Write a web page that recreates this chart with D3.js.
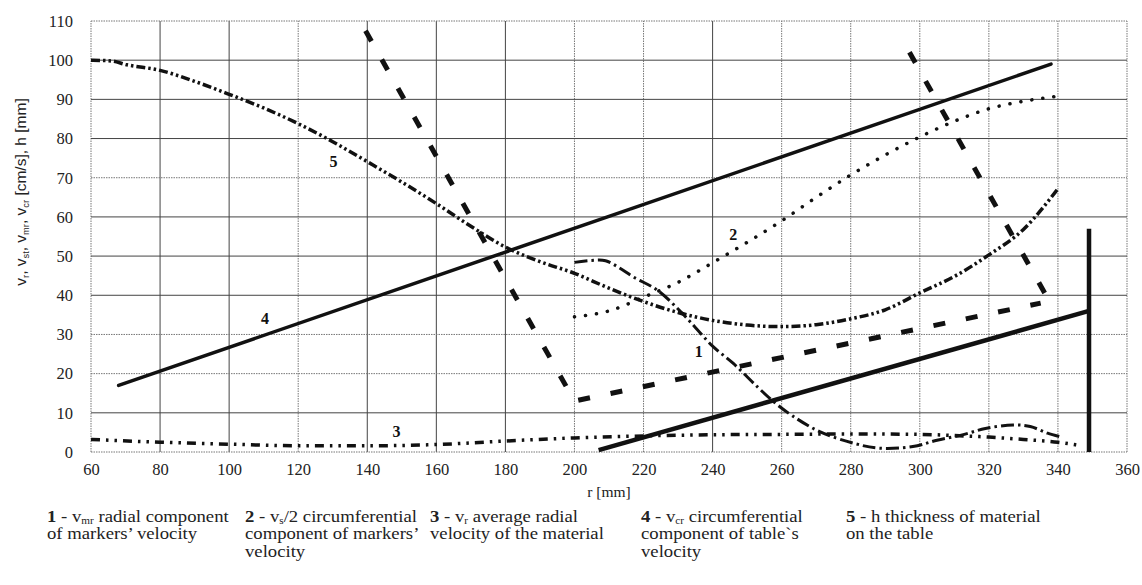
<!DOCTYPE html>
<html>
<head>
<meta charset="utf-8">
<script src="https://cdn.jsdelivr.net/npm/d3@7/dist/d3.min.js"></script>
<style>
  html, body { margin: 0; padding: 0; background: #fff; }
  svg { display: block; }
</style>
</head>
<body>
<svg id="chart" width="1142" height="585"></svg>
<script>
// ---- data (r in mm; velocities in cm/s, thickness in mm) ----
const rTicks = [60, 80, 100, 120, 140, 160, 180, 200, 220, 240, 260, 280, 300, 320, 340, 360];
const vTicks = [0, 10, 20, 30, 40, 50, 60, 70, 80, 90, 100, 110];

// 1 - v_mr radial component of markers' velocity
const vMarkersRadial = [[200,48.4],[205,48.9],[209,48.8],[213,47],[217,44.7],[224,41.3],[230,36.5],[235,31.8],[240,27],[246,22.6],[253,16.6],[258,12.6],[263,9.3],[271,5.2],[281,2.2],[288,1.0],[298,1.4],[305,3.0],[312,4.3],[319,6.0],[327,6.9],[332,6.5],[337,4.8],[341,3.8]];
// 2 - v_s/2 circumferential component of markers' velocity
const vMarkersCircHalf = [[200,34.5],[210,36],[220,39.5],[230,43.3],[240,48.3],[250,53.5],[260,59],[270,65],[280,70.7],[290,75.8],[300,80.4],[310,84.4],[320,87.6],[330,89.5],[340,90.8]];
// 3 - v_r average radial velocity of the material
const vMaterialRadial = [[60,3.2],[80,2.5],[100,2.0],[120,1.6],[140,1.6],[160,1.9],[180,2.8],[200,3.6],[220,4.1],[240,4.4],[260,4.5],[280,4.6],[300,4.5],[310,4.2],[320,3.8],[330,3.2],[340,2.5],[346,1.7]];
// 4 - v_cr circumferential component of table's velocity
const vTableCirc = [[68,17],[338,99]];
// 5 - h thickness of material on the table
const hThickness = [[60,100],[66,99.8],[70,98.9],[80,97.4],[90,94.6],[100,91.3],[110,87.8],[120,83.8],[130,79.2],[140,74.1],[150,68.9],[160,63.4],[170,57.6],[180,52.3],[190,48.6],[200,45.6],[210,41.8],[220,38.4],[230,35.6],[240,33.6],[250,32.4],[260,32],[270,32.5],[280,34],[290,36.3],[300,40.6],[310,44.8],[320,50.3],[330,56.8],[340,67.2]];

// heavy dashed curve (two branches)
const dashedBranchA = [[139.5,107.5],[200,13],[335,38]];
const dashedBranchB = [[297,102],[337.5,38.5]];
// heavy solid line and the edge marker at r = 349 mm
const heavyLine = [[207,0.5],[349,36]];
const edgeMarker = [[349,0],[349,57]];

// curve numbers, anchored in data units
const curveLabels = [
  {text: "1", r: 236, v: 25.6},
  {text: "2", r: 246, v: 55.5},
  {text: "3", r: 148.5, v: 5.2},
  {text: "4", r: 110.4, v: 34.1},
  {text: "5", r: 130.2, v: 74.1}
];

// legend entries: each line is a list of [text, kind] pieces (kind: "b" bold, "s" subscript)
const legendItems = [
  [[["1", "b"], [" - v"], ["mr", "s"], [" radial component"]], [["of markers’ velocity"]]],
  [[["2", "b"], [" - v"], ["s", "s"], ["/2 circumferential"]], [["component of markers’"]], [["velocity"]]],
  [[["3", "b"], [" - v"], ["r", "s"], [" average radial"]], [["velocity of the material"]]],
  [[["4", "b"], [" - v"], ["cr", "s"], [" circumferential"]], [["component of table`s"]], [["velocity"]]],
  [[["5", "b"], [" - h thickness of material"]], [["on the table"]]]
];

// ---- drawing ----
const SERIF = "Liberation Serif";
const SANS = "Liberation Sans";
const svg = d3.select("#chart");
const x = d3.scaleLinear().domain([60, 360]).range([91, 1127]);
const y = d3.scaleLinear().domain([0, 110]).range([452, 21]);

const dottedR = new Set([60, 120, 200, 220, 260, 280, 300, 320, 340, 360]);
const dottedV = new Set([0, 20, 30, 70, 110]);

const grid = svg.append("g");
grid.selectAll("line.gx").data(rTicks).join("line")
  .attr("x1", d => x(d)).attr("x2", d => x(d))
  .attr("y1", y(0)).attr("y2", y(110))
  .attr("stroke", d => dottedR.has(d) ? "#777" : "#444")
  .attr("stroke-width", 1)
  .attr("stroke-dasharray", d => dottedR.has(d) ? "1.5,1" : null);
grid.selectAll("line.gy").data(vTicks).join("line")
  .attr("y1", d => y(d)).attr("y2", d => y(d))
  .attr("x1", x(60)).attr("x2", x(360))
  .attr("stroke", d => dottedV.has(d) ? "#777" : "#444")
  .attr("stroke-width", 1)
  .attr("stroke-dasharray", d => dottedV.has(d) ? "1.5,1" : null);

// axes (labels only; the grid forms the frame)
const xAxis = svg.append("g").attr("transform", `translate(0,${y(0)})`)
  .call(d3.axisBottom(x).tickValues(rTicks).tickSize(0).tickPadding(11).tickFormat(d3.format("d")));
const yAxis = svg.append("g").attr("transform", `translate(${x(60)},0)`)
  .call(d3.axisLeft(y).tickValues(vTicks).tickSize(0).tickPadding(18).tickFormat(d3.format("d")));
[xAxis, yAxis].forEach(a => {
  a.select(".domain").remove();
  a.selectAll("text").attr("fill", "#222")
    .style("font-family", SERIF).style("font-size", "16.5px");
});

svg.append("text")
  .attr("x", x(210)).attr("y", 497).attr("text-anchor", "middle")
  .style("font-family", SERIF).style("font-size", "15.5px").attr("fill", "#222")
  .text("r [mm]");

// y-axis title with subscripts
const yTitle = svg.append("text")
  .attr("transform", "translate(26,192) rotate(-90)")
  .attr("text-anchor", "middle")
  .style("font-family", SANS)
  .style("font-size", "15.5px").attr("fill", "#222");
const yTitleParts = [["v"], ["r", "s"], [", v"], ["st", "s"], [", v"], ["mr", "s"], [", v"], ["cr", "s"], [" [cm/s], h [mm]"]];
function addParts(sel, parts, drop) {
  let shifted = false;
  parts.forEach(([t, kind]) => {
    const ts = sel.append("tspan").text(t);
    if (kind === "s") {
      ts.attr("dy", drop).style("font-size", "0.6em");
      shifted = true;
    } else {
      if (shifted) { ts.attr("dy", -drop); shifted = false; }
      if (kind === "b") ts.style("font-weight", "bold");
    }
  });
}
addParts(yTitle, yTitleParts, 3);

// curves
const lineGen = d3.line().x(d => x(d[0])).y(d => y(d[1]));
const smoothGen = d3.line().x(d => x(d[0])).y(d => y(d[1])).curve(d3.curveMonotoneX);
const marks = svg.append("g").attr("fill", "none").attr("stroke", "#111");

marks.append("path").datum(hThickness).attr("d", smoothGen)
  .attr("stroke-width", 3.5).attr("stroke-dasharray", "9,3,2.5,3,2.5,3");
marks.append("path").datum(vTableCirc).attr("d", lineGen)
  .attr("stroke-width", 3.5).attr("stroke-linecap", "round");
marks.append("path").datum(vMarkersCircHalf).attr("d", smoothGen)
  .attr("stroke-width", 3.5).attr("stroke-linecap", "round").attr("stroke-dasharray", "0.1,11");
marks.append("path").datum(vMarkersRadial).attr("d", d3.line().x(d => x(d[0])).y(d => y(d[1])).curve(d3.curveCatmullRom))
  .attr("stroke-width", 3).attr("stroke-dasharray", "13,4,2.5,4");
marks.append("path").datum(vMaterialRadial).attr("d", smoothGen)
  .attr("stroke-width", 3.5).attr("stroke-dasharray", "9,6,2.5,6,2.5,6");
[dashedBranchA, dashedBranchB].forEach(b => {
  marks.append("path").datum(b).attr("d", lineGen)
    .attr("stroke-width", 5).attr("stroke-dasharray", "12,21");
});
marks.append("path").datum(heavyLine).attr("d", lineGen).attr("stroke-width", 4.5);
marks.append("path").datum(edgeMarker).attr("d", lineGen).attr("stroke-width", 4.5);

// curve numbers
svg.append("g").selectAll("text").data(curveLabels).join("text")
  .style("font-family", SERIF).style("font-size", "16px").style("font-weight", "bold").attr("fill", "#111")
  .attr("x", d => x(d.r)).attr("y", d => y(d.v))
  .attr("text-anchor", "middle").attr("dy", "0.35em")
  .text(d => d.text);

// legend: five columns under the plot, slightly widened serif text
const legendX = [47, 245, 430, 641, 846];
legendItems.forEach((lines, i) => {
  const col = svg.append("g").attr("transform", `translate(${legendX[i]},0) scale(1.1,1)`);
  lines.forEach((parts, j) => {
    const t = col.append("text")
      .style("font-family", SERIF).style("font-size", "17px").attr("fill", "#222")
      .attr("x", 0).attr("y", 522 + j * 17.5);
    addParts(t, parts, 2.5);
  });
});
</script>
</body>
</html>
